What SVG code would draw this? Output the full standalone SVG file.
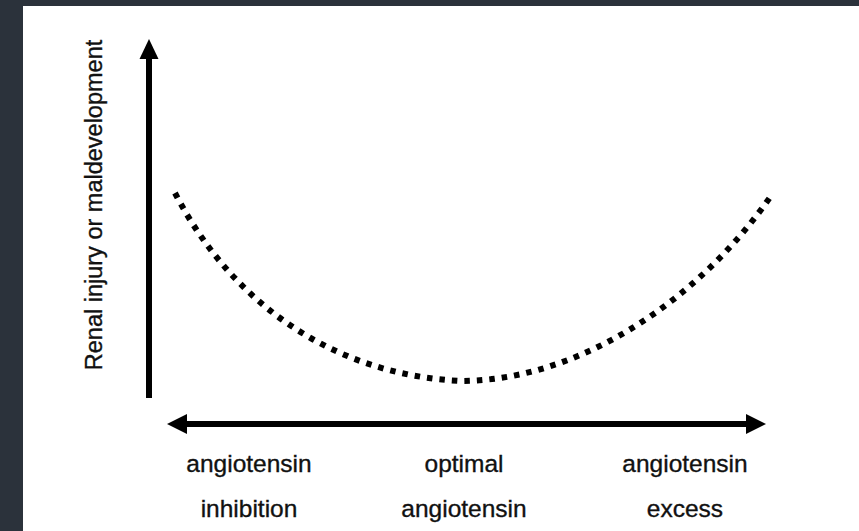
<svg xmlns="http://www.w3.org/2000/svg" width="859" height="531" viewBox="0 0 859 531">
<defs>
<style>
.lbl{font-family:"Liberation Sans",Arial,sans-serif;font-size:24.5px;fill:#111;stroke:#111;stroke-width:0.35;text-anchor:middle}
.ylbl{font-size:23.5px}
.axis{stroke:#000;stroke-width:6;fill:none}
.curve{stroke:#000;stroke-width:6;fill:none;stroke-dasharray:5.5 7}
</style>
</defs>
<rect x="0" y="0" width="859" height="531" fill="#2b323b"/>
<rect x="23" y="6" width="836" height="525" fill="#ffffff"/>
<g id="connectors">
<line class="axis" x1="149" y1="398" x2="149" y2="56"/>
<polygon points="149,39 139.5,59 158.5,59" fill="#000"/>
<line class="axis" x1="183" y1="424" x2="750" y2="424"/>
<polygon points="167,424 187,414 187,434" fill="#000"/>
<polygon points="766,424 746,414 746,434" fill="#000"/>
</g>
<g id="curve">
<path class="curve" d="M175,193 C230,300 330,375 462,381 C580,380 700,300 773,193"/>
</g>
<g id="ylabel">
<text class="lbl ylbl" transform="translate(102,205) rotate(-90)">Renal injury or maldevelopment</text>
</g>
<g id="label-inhibition">
<text class="lbl" x="249" y="472">angiotensin</text>
<text class="lbl" x="249" y="517">inhibition</text>
</g>
<g id="label-optimal">
<text class="lbl" x="464" y="472">optimal</text>
<text class="lbl" x="464" y="517">angiotensin</text>
</g>
<g id="label-excess">
<text class="lbl" x="685" y="472">angiotensin</text>
<text class="lbl" x="685" y="517">excess</text>
</g>
</svg>
